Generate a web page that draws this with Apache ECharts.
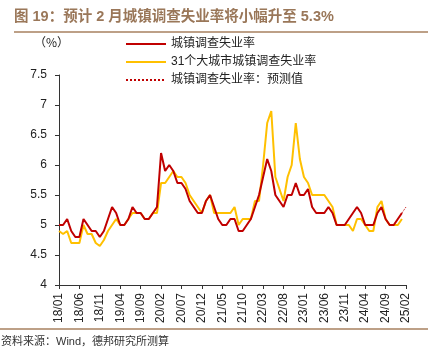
<!DOCTYPE html>
<html>
<head>
<meta charset="utf-8">
<script src="https://cdn.jsdelivr.net/npm/echarts@6/dist/echarts.min.js"></script>
<style>
html,body{margin:0;padding:0;background:#fff;}
#chart{width:438px;height:362px;}
</style>
</head>
<body>
<div id="chart"></div>
<script>
var titleText = '图 19：预计 2 月城镇调查失业率将小幅升至 5.3%';
var sourceText = '资料来源：Wind，德邦研究所测算';
var unitText = '（%）';
var seriesNames = ['城镇调查失业率', '31个大城市城镇调查失业率', '城镇调查失业率：预测值'];

var months = [
  '18/01','18/02','18/03','18/04','18/05','18/06','18/07','18/08','18/09','18/10','18/11','18/12',
  '19/01','19/02','19/03','19/04','19/05','19/06','19/07','19/08','19/09','19/10','19/11','19/12',
  '20/01','20/02','20/03','20/04','20/05','20/06','20/07','20/08','20/09','20/10','20/11','20/12',
  '21/01','21/02','21/03','21/04','21/05','21/06','21/07','21/08','21/09','21/10','21/11','21/12',
  '22/01','22/02','22/03','22/04','22/05','22/06','22/07','22/08','22/09','22/10','22/11','22/12',
  '23/01','23/02','23/03','23/04','23/05','23/06','23/07','23/08','23/09','23/10','23/11','23/12',
  '24/01','24/02','24/03','24/04','24/05','24/06','24/07','24/08','24/09','24/10','24/11','24/12',
  '25/01','25/02'
];

var urbanRate = [
  5.0, 5.0, 5.1, 4.9, 4.8, 4.8, 5.1, 5.0, 4.9, 4.9, 4.8, 4.9,
  5.1, 5.3, 5.2, 5.0, 5.0, 5.1, 5.3, 5.2, 5.2, 5.1, 5.1, 5.2,
  5.3, 6.2, 5.9, 6.0, 5.9, 5.7, 5.7, 5.6, 5.4, 5.3, 5.2, 5.2,
  5.4, 5.5, 5.3, 5.1, 5.0, 5.0, 5.1, 5.1, 4.9, 4.9, 5.0, 5.1,
  5.3, 5.5, 5.8, 6.1, 5.9, 5.5, 5.4, 5.3, 5.5, 5.5, 5.7, 5.5,
  5.5, 5.6, 5.3, 5.2, 5.2, 5.2, 5.3, 5.2, 5.0, 5.0, 5.0, 5.1,
  5.2, 5.3, 5.2, 5.0, 5.0, 5.0, 5.2, 5.3, 5.1, 5.0, 5.0, 5.1,
  5.2, null
];

var city31Rate = [
  4.9, 4.85, 4.9, 4.7, 4.7, 4.7, 5.0, 4.85, 4.85, 4.7, 4.65, 4.75,
  4.9, 5.0, 5.1, 5.0, 5.0, 5.1, 5.2, 5.2, 5.2, 5.1, 5.1, 5.2,
  5.2, 5.7, 5.7, 5.8, 5.9, 5.8, 5.8, 5.7, 5.5, 5.4, 5.3, 5.2,
  5.4, 5.5, 5.2, 5.2, 5.2, 5.2, 5.2, 5.3, 5.0, 5.1, 5.1, 5.1,
  5.4, 5.4, 6.0, 6.7, 6.9, 5.8, 5.6, 5.4, 5.8, 6.0, 6.7, 6.1,
  5.8, 5.7, 5.5, 5.5, 5.5, 5.5, 5.4, 5.3, 5.0, 5.0, 5.0, 5.0,
  4.9, 5.1, 5.1, 5.0, 4.9, 4.9, 5.3, 5.4, 5.1, 5.0, 5.0, 5.0,
  5.1, null
];

var forecastMonths = ['25/01', '25/02'];
var forecastValues = [5.2, 5.3];

var forecastSeries = months.map(function (m) {
  var k = forecastMonths.indexOf(m);
  return k >= 0 ? forecastValues[k] : null;
});

var FONT = '"Liberation Sans", Arial, "Noto Sans CJK SC", sans-serif';
var CJK = '"Noto Sans CJK SC", sans-serif';
var chart = echarts.init(document.getElementById('chart'), null, {renderer: 'canvas'});

chart.setOption({
  animation: false,
  backgroundColor: '#fff',
  textStyle: {fontFamily: FONT},
  title: {
    text: titleText,
    left: 9, top: 5,
    textStyle: {fontSize: 14.5, fontWeight: 'bold', color: '#9A7759', fontFamily: FONT}
  },
  graphic: [
    {type: 'line', shape: {x1: 14, y1: 32, x2: 428, y2: 32}, style: {stroke: '#A7805F', lineWidth: 1.5}},
    {type: 'line', shape: {x1: 0, y1: 329, x2: 428, y2: 329}, style: {stroke: '#A7805F', lineWidth: 1.5}},
    {type: 'text', left: 1, top: 336, style: {text: sourceText, fontSize: 11, fill: '#333', fontFamily: FONT}},
    {type: 'text', left: 34, top: 36, style: {text: unitText, fontSize: 12, fill: '#222', fontFamily: CJK}}
  ],
  legend: {
    orient: 'vertical',
    left: 120, top: 33,
    itemWidth: 40, itemHeight: 13, itemGap: 6,
    itemStyle: {opacity: 0},
    textStyle: {fontSize: 12, color: '#222', fontFamily: FONT},
    data: seriesNames
  },
  grid: {left: 59, right: 32, top: 75, bottom: 77, containLabel: false},
  xAxis: {
    type: 'category',
    data: months,
    boundaryGap: false,
    axisLine: {lineStyle: {color: '#333', width: 1}},
    axisTick: {interval: 4, length: 4, lineStyle: {color: '#333'}},
    axisLabel: {interval: 4, rotate: 90, margin: 8, fontSize: 12, color: '#222', fontFamily: FONT},
    splitLine: {show: false}
  },
  yAxis: {
    type: 'value',
    min: 4, max: 7.5, interval: 0.5,
    axisLine: {show: true, lineStyle: {color: '#333', width: 1}},
    axisTick: {show: true, length: 4, lineStyle: {color: '#333'}},
    axisLabel: {fontSize: 12, color: '#222', margin: 12, fontFamily: FONT},
    splitLine: {show: false}
  },
  series: [
    {name: seriesNames[0], type: 'line', data: urbanRate, symbol: 'none', z: 3,
      lineStyle: {color: '#C00000', width: 2}, itemStyle: {color: '#C00000'}},
    {name: seriesNames[1], type: 'line', data: city31Rate, symbol: 'none', z: 2,
      lineStyle: {color: '#FFC000', width: 2}, itemStyle: {color: '#FFC000'}},
    {name: seriesNames[2], type: 'line', data: forecastSeries, symbol: 'none', z: 4,
      lineStyle: {color: '#C00000', width: 1, type: 'dotted'}, itemStyle: {color: '#C00000'}}
  ]
});
</script>
</body>
</html>
